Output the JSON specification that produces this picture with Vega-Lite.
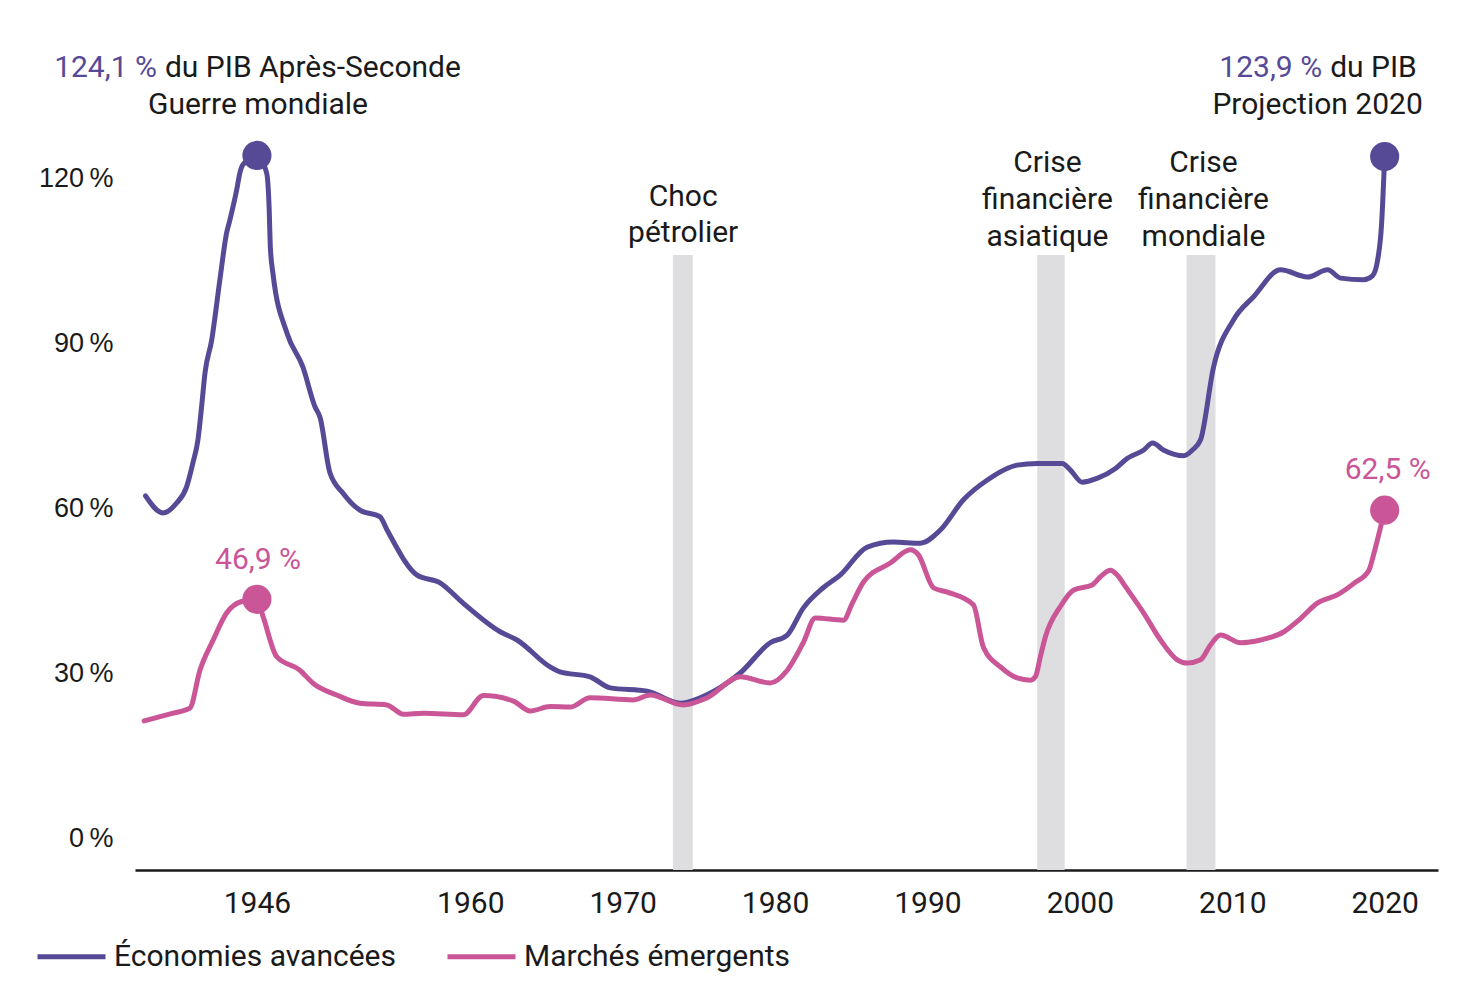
{
  "$schema": "https://vega.github.io/schema/vega-lite/v6.json",
  "width": 1303,
  "height": 857,
  "autosize": {"type": "none"},
  "padding": {"left": 135, "top": 13, "right": 34, "bottom": 116},
  "background": "white",
  "config": {"view": {"stroke": null}, "font": "Roboto"},
  "datasets": {
    "series": [
      {"series": "Économies avancées", "year": 1938.69, "value": 62.2},
      {"series": "Économies avancées", "year": 1939.83, "value": 59.1},
      {"series": "Économies avancées", "year": 1940.73, "value": 60.9},
      {"series": "Économies avancées", "year": 1941.38, "value": 63.8},
      {"series": "Économies avancées", "year": 1941.8, "value": 68.2},
      {"series": "Économies avancées", "year": 1942.13, "value": 72.4},
      {"series": "Économies avancées", "year": 1942.37, "value": 78.4},
      {"series": "Économies avancées", "year": 1942.59, "value": 84.5},
      {"series": "Économies avancées", "year": 1943.03, "value": 90.5},
      {"series": "Économies avancées", "year": 1943.57, "value": 101.5},
      {"series": "Économies avancées", "year": 1944.01, "value": 110.0},
      {"series": "Économies avancées", "year": 1944.23, "value": 112.4},
      {"series": "Économies avancées", "year": 1944.67, "value": 117.8},
      {"series": "Économies avancées", "year": 1944.88, "value": 120.9},
      {"series": "Économies avancées", "year": 1945.08, "value": 122.4},
      {"series": "Économies avancées", "year": 1946, "value": 124.1},
      {"series": "Économies avancées", "year": 1946.64, "value": 120.9},
      {"series": "Économies avancées", "year": 1946.8, "value": 114.7},
      {"series": "Économies avancées", "year": 1946.88, "value": 107.5},
      {"series": "Économies avancées", "year": 1947.05, "value": 102.7},
      {"series": "Économies avancées", "year": 1947.97, "value": 91.8},
      {"series": "Économies avancées", "year": 1949.02, "value": 85.6},
      {"series": "Économies avancées", "year": 1949.81, "value": 78.4},
      {"series": "Économies avancées", "year": 1950.14, "value": 76.5},
      {"series": "Économies avancées", "year": 1950.79, "value": 66.4},
      {"series": "Économies avancées", "year": 1951.65, "value": 62.7},
      {"series": "Économies avancées", "year": 1952.76, "value": 59.6},
      {"series": "Économies avancées", "year": 1954.08, "value": 58.4},
      {"series": "Économies avancées", "year": 1954.54, "value": 56.0},
      {"series": "Économies avancées", "year": 1956.51, "value": 47.8},
      {"series": "Économies avancées", "year": 1958.02, "value": 46.4},
      {"series": "Économies avancées", "year": 1959.53, "value": 42.7},
      {"series": "Économies avancées", "year": 1961.96, "value": 37.5},
      {"series": "Économies avancées", "year": 1963.07, "value": 36.0},
      {"series": "Économies avancées", "year": 1965.24, "value": 31.1},
      {"series": "Économies avancées", "year": 1965.89, "value": 30.2},
      {"series": "Économies avancées", "year": 1967.86, "value": 29.3},
      {"series": "Économies avancées", "year": 1969.18, "value": 27.3},
      {"series": "Économies avancées", "year": 1971.61, "value": 26.7},
      {"series": "Économies avancées", "year": 1973.78, "value": 24.5},
      {"series": "Économies avancées", "year": 1975.09, "value": 25.5},
      {"series": "Économies avancées", "year": 1977.71, "value": 30.0},
      {"series": "Économies avancées", "year": 1979.68, "value": 35.5},
      {"series": "Économies avancées", "year": 1980.8, "value": 36.9},
      {"series": "Économies avancées", "year": 1981.85, "value": 41.8},
      {"series": "Économies avancées", "year": 1983.16, "value": 45.5},
      {"series": "Économies avancées", "year": 1984.27, "value": 47.8},
      {"series": "Économies avancées", "year": 1986.05, "value": 52.9},
      {"series": "Économies avancées", "year": 1987.76, "value": 53.8},
      {"series": "Économies avancées", "year": 1989.53, "value": 53.6},
      {"series": "Économies avancées", "year": 1990.85, "value": 56.0},
      {"series": "Économies avancées", "year": 1992.36, "value": 61.5},
      {"series": "Économies avancées", "year": 1993.93, "value": 65.1},
      {"series": "Économies avancées", "year": 1995.88, "value": 67.8},
      {"series": "Économies avancées", "year": 1997.19, "value": 68.1},
      {"series": "Économies avancées", "year": 1998.84, "value": 68.1},
      {"series": "Économies avancées", "year": 1999.38, "value": 66.9},
      {"series": "Économies avancées", "year": 2000.15, "value": 64.7},
      {"series": "Économies avancées", "year": 2001.13, "value": 65.4},
      {"series": "Économies avancées", "year": 2002.34, "value": 67.2},
      {"series": "Économies avancées", "year": 2003.1, "value": 69.0},
      {"series": "Économies avancées", "year": 2004.17, "value": 70.5},
      {"series": "Économies avancées", "year": 2004.77, "value": 71.8},
      {"series": "Économies avancées", "year": 2005.51, "value": 70.5},
      {"series": "Économies avancées", "year": 2006.82, "value": 69.5},
      {"series": "Économies avancées", "year": 2007.37, "value": 70.5},
      {"series": "Économies avancées", "year": 2007.92, "value": 72.4},
      {"series": "Économies avancées", "year": 2008.77, "value": 85.6},
      {"series": "Économies avancées", "year": 2010.08, "value": 94.2},
      {"series": "Économies avancées", "year": 2011.4, "value": 98.4},
      {"series": "Économies avancées", "year": 2013.17, "value": 103.3},
      {"series": "Économies avancées", "year": 2014.94, "value": 102.0},
      {"series": "Économies avancées", "year": 2016.26, "value": 103.3},
      {"series": "Économies avancées", "year": 2017.11, "value": 101.8},
      {"series": "Économies avancées", "year": 2018.62, "value": 101.5},
      {"series": "Économies avancées", "year": 2019.2, "value": 102.2},
      {"series": "Économies avancées", "year": 2019.54, "value": 105.1},
      {"series": "Économies avancées", "year": 2019.79, "value": 111.3},
      {"series": "Économies avancées", "year": 2020, "value": 123.9},
      {"series": "Marchés émergents", "year": 1938.6, "value": 21.3},
      {"series": "Marchés émergents", "year": 1940.5, "value": 22.7},
      {"series": "Marchés émergents", "year": 1941.6, "value": 23.6},
      {"series": "Marchés émergents", "year": 1942.26, "value": 30.5},
      {"series": "Marchés émergents", "year": 1943.13, "value": 36.0},
      {"series": "Marchés émergents", "year": 1944.01, "value": 40.9},
      {"series": "Marchés émergents", "year": 1944.99, "value": 43.0},
      {"series": "Marchés émergents", "year": 1946, "value": 43.4},
      {"series": "Marchés émergents", "year": 1946.41, "value": 40.2},
      {"series": "Marchés émergents", "year": 1947.29, "value": 33.0},
      {"series": "Marchés émergents", "year": 1948.82, "value": 30.5},
      {"series": "Marchés émergents", "year": 1949.7, "value": 28.1},
      {"series": "Marchés émergents", "year": 1951.23, "value": 26.0},
      {"series": "Marchés émergents", "year": 1952.76, "value": 24.5},
      {"series": "Marchés émergents", "year": 1954.52, "value": 24.2},
      {"series": "Marchés émergents", "year": 1955.61, "value": 22.5},
      {"series": "Marchés émergents", "year": 1956.92, "value": 22.7},
      {"series": "Marchés émergents", "year": 1959.55, "value": 22.4},
      {"series": "Marchés émergents", "year": 1960.86, "value": 25.9},
      {"series": "Marchés émergents", "year": 1962.83, "value": 24.9},
      {"series": "Marchés émergents", "year": 1963.93, "value": 23.1},
      {"series": "Marchés émergents", "year": 1965.24, "value": 23.9},
      {"series": "Marchés émergents", "year": 1966.55, "value": 23.8},
      {"series": "Marchés émergents", "year": 1967.86, "value": 25.5},
      {"series": "Marchés émergents", "year": 1970.69, "value": 25.1},
      {"series": "Marchés émergents", "year": 1971.8, "value": 26.0},
      {"series": "Marchés émergents", "year": 1973.97, "value": 24.2},
      {"series": "Marchés émergents", "year": 1975.55, "value": 25.5},
      {"series": "Marchés émergents", "year": 1977.71, "value": 29.3},
      {"series": "Marchés émergents", "year": 1979.68, "value": 28.2},
      {"series": "Marchés émergents", "year": 1980.8, "value": 30.5},
      {"series": "Marchés émergents", "year": 1981.85, "value": 35.5},
      {"series": "Marchés émergents", "year": 1982.64, "value": 40.0},
      {"series": "Marchés émergents", "year": 1984.48, "value": 39.6},
      {"series": "Marchés émergents", "year": 1985.07, "value": 42.7},
      {"series": "Marchés émergents", "year": 1985.79, "value": 46.5},
      {"series": "Marchés émergents", "year": 1987.56, "value": 50.0},
      {"series": "Marchés émergents", "year": 1988.88, "value": 52.4},
      {"series": "Marchés émergents", "year": 1989.4, "value": 51.5},
      {"series": "Marchés émergents", "year": 1990.39, "value": 45.5},
      {"series": "Marchés émergents", "year": 1991.31, "value": 44.7},
      {"series": "Marchés émergents", "year": 1993.01, "value": 42.4},
      {"series": "Marchés émergents", "year": 1993.67, "value": 34.7},
      {"series": "Marchés émergents", "year": 1994.79, "value": 31.1},
      {"series": "Marchés émergents", "year": 1995.88, "value": 29.1},
      {"series": "Marchés émergents", "year": 1996.76, "value": 28.7},
      {"series": "Marchés émergents", "year": 1997.08, "value": 29.3},
      {"series": "Marchés émergents", "year": 1997.41, "value": 33.0},
      {"series": "Marchés émergents", "year": 1997.74, "value": 36.6},
      {"series": "Marchés émergents", "year": 1998.72, "value": 42.1},
      {"series": "Marchés émergents", "year": 1999.6, "value": 45.1},
      {"series": "Marchés émergents", "year": 2000.81, "value": 46.0},
      {"series": "Marchés émergents", "year": 2001.35, "value": 47.5},
      {"series": "Marchés émergents", "year": 2002.01, "value": 48.7},
      {"series": "Marchés émergents", "year": 2002.45, "value": 47.8},
      {"series": "Marchés émergents", "year": 2002.99, "value": 45.7},
      {"series": "Marchés émergents", "year": 2004.19, "value": 40.9},
      {"series": "Marchés émergents", "year": 2005.29, "value": 36.0},
      {"series": "Marchés émergents", "year": 2006.39, "value": 32.4},
      {"series": "Marchés émergents", "year": 2007.04, "value": 31.8},
      {"series": "Marchés émergents", "year": 2007.92, "value": 32.4},
      {"series": "Marchés émergents", "year": 2008.57, "value": 35.1},
      {"series": "Marchés émergents", "year": 2009.23, "value": 36.9},
      {"series": "Marchés émergents", "year": 2010.54, "value": 35.5},
      {"series": "Marchés émergents", "year": 2011.86, "value": 36.0},
      {"series": "Marchés émergents", "year": 2013.39, "value": 37.5},
      {"series": "Marchés émergents", "year": 2014.48, "value": 39.9},
      {"series": "Marchés émergents", "year": 2015.58, "value": 42.7},
      {"series": "Marchés émergents", "year": 2016.89, "value": 44.2},
      {"series": "Marchés émergents", "year": 2017.98, "value": 46.3},
      {"series": "Marchés émergents", "year": 2018.97, "value": 48.7},
      {"series": "Marchés émergents", "year": 2019.3, "value": 51.8},
      {"series": "Marchés émergents", "year": 2019.74, "value": 56.6},
      {"series": "Marchés émergents", "year": 2020, "value": 59.6}
    ],
    "bands": [
      {"event": "Choc pétrolier", "start": 1973.3, "end": 1974.6},
      {"event": "Crise financière asiatique", "start": 1997.2, "end": 1999.0},
      {"event": "Crise financière mondiale", "start": 2007.0, "end": 2008.9}
    ],
    "notes": [
      {"role": "label", "year": 1946.07, "value": 133.3, "text": "Guerre mondiale"},
      {"role": "label", "year": 2015.6, "value": 133.3, "text": "Projection 2020"},
      {"role": "label", "year": 1973.97, "value": 116.5, "text": "Choc"},
      {"role": "label", "year": 1973.97, "value": 110.0, "text": "pétrolier"},
      {"role": "label", "year": 1997.87, "value": 122.7, "text": "Crise"},
      {"role": "label", "year": 1997.87, "value": 116.0, "text": "financière"},
      {"role": "label", "year": 1997.87, "value": 109.3, "text": "asiatique"},
      {"role": "label", "year": 2008.11, "value": 122.7, "text": "Crise"},
      {"role": "label", "year": 2008.11, "value": 116.0, "text": "financière"},
      {"role": "label", "year": 2008.11, "value": 109.3, "text": "mondiale"},
      {"role": "number", "year": 1939.7, "value": 140.0, "text": "124,1 %"},
      {"role": "number", "year": 2016.16, "value": 140.0, "text": "123,9 %"},
      {"role": "after", "year": 1939.7, "value": 140.0, "text": "du PIB Après-Seconde"},
      {"role": "after", "year": 2016.16, "value": 140.0, "text": "du PIB"},
      {"role": "value", "year": 1946.07, "value": 50.5, "text": "46,9 %"},
      {"role": "value", "year": 2020.2, "value": 66.9, "text": "62,5 %"}
    ]
  },
  "layer": [
    {
      "data": {"name": "bands"},
      "mark": {"type": "rect", "color": "#dedee0"},
      "encoding": {
        "x": {"field": "start", "type": "quantitative", "scale": {"domain": [1938, 2023.5], "nice": false, "zero": false},
          "axis": {"title": null, "values": [1946, 1960, 1970, 1980, 1990, 2000, 2010, 2020], "format": "d", "ticks": false, "grid": false,
            "domainColor": "#1a1a1a", "domainWidth": 2.5, "labelFont": "Roboto", "labelFontSize": 30, "labelColor": "#1a1a1a", "labelPadding": 18, "labelFlush": false}},
        "x2": {"field": "end"},
        "y": {"datum": 106, "type": "quantitative", "scale": {"domain": [-5.818, 150], "nice": false, "zero": false},
          "axis": {"title": null, "values": [0, 30, 60, 90, 120], "labelExpr": "datum.value + '\u202f%'", "domain": false, "ticks": false, "grid": false,
            "labelFont": "Liberation Sans", "labelFontSize": 27, "labelColor": "#1a1a1a", "labelPadding": 22}},
        "y2": {"datum": -5.818}
      }
    },
    {
      "data": {"name": "series"},
      "mark": {"type": "line", "strokeWidth": 5, "interpolate": "monotone", "strokeCap": "round", "strokeJoin": "round"},
      "encoding": {
        "x": {"field": "year", "type": "quantitative", "scale": {"domain": [1938, 2023.5], "nice": false, "zero": false},
          "axis": {"title": null, "values": [1946, 1960, 1970, 1980, 1990, 2000, 2010, 2020], "format": "d", "ticks": false, "grid": false,
            "domainColor": "#1a1a1a", "domainWidth": 2.5, "labelFont": "Roboto", "labelFontSize": 30, "labelColor": "#1a1a1a", "labelPadding": 18, "labelFlush": false}},
        "y": {"field": "value", "type": "quantitative", "scale": {"domain": [-5.818, 150], "nice": false, "zero": false},
          "axis": {"title": null, "values": [0, 30, 60, 90, 120], "labelExpr": "datum.value + '\u202f%'", "domain": false, "ticks": false, "grid": false,
            "labelFont": "Liberation Sans", "labelFontSize": 27, "labelColor": "#1a1a1a", "labelPadding": 22}},
        "color": {"field": "series", "type": "nominal",
          "scale": {"domain": ["Économies avancées", "Marchés émergents"], "range": ["#564a97", "#ca5597"]},
          "legend": {"title": null, "orient": "none", "legendX": -100, "legendY": 907, "direction": "horizontal",
            "symbolType": "stroke", "symbolSize": 4624, "symbolStrokeWidth": 5, "labelFont": "Roboto", "labelFontSize": 30,
            "labelColor": "#1a1a1a", "labelOffset": 6, "columnPadding": 41, "padding": 0, "labelLimit": 400}}
      }
    },
    {
      "data": {"name": "series"},
      "transform": [{"filter": "datum.year == 1946 || datum.year == 2020"}],
      "mark": {"type": "point", "filled": true, "opacity": 1, "size": 850},
      "encoding": {
        "x": {"field": "year", "type": "quantitative", "title": null},
        "y": {"field": "value", "type": "quantitative", "title": null},
        "color": {"field": "series", "type": "nominal", "legend": null}
      }
    },
    {
      "data": {"name": "notes"},
      "transform": [{"filter": "datum.role == 'label'"}],
      "mark": {"type": "text", "align": "center", "baseline": "middle", "fontSize": 30, "color": "#1a1a1a", "font": "Roboto"},
      "encoding": {
        "x": {"field": "year", "type": "quantitative", "title": null},
        "y": {"field": "value", "type": "quantitative", "title": null},
        "text": {"field": "text", "type": "nominal"}
      }
    },
    {
      "data": {"name": "notes"},
      "transform": [{"filter": "datum.role == 'number'"}],
      "mark": {"type": "text", "align": "right", "baseline": "middle", "dx": -4, "fontSize": 30, "color": "#564a97", "font": "Roboto"},
      "encoding": {
        "x": {"field": "year", "type": "quantitative", "title": null},
        "y": {"field": "value", "type": "quantitative", "title": null},
        "text": {"field": "text", "type": "nominal"}
      }
    },
    {
      "data": {"name": "notes"},
      "transform": [{"filter": "datum.role == 'after'"}],
      "mark": {"type": "text", "align": "left", "baseline": "middle", "dx": 4, "fontSize": 30, "color": "#1a1a1a", "font": "Roboto"},
      "encoding": {
        "x": {"field": "year", "type": "quantitative", "title": null},
        "y": {"field": "value", "type": "quantitative", "title": null},
        "text": {"field": "text", "type": "nominal"}
      }
    },
    {
      "data": {"name": "notes"},
      "transform": [{"filter": "datum.role == 'value'"}],
      "mark": {"type": "text", "align": "center", "baseline": "middle", "fontSize": 30, "color": "#ca5597", "font": "Roboto"},
      "encoding": {
        "x": {"field": "year", "type": "quantitative", "title": null},
        "y": {"field": "value", "type": "quantitative", "title": null},
        "text": {"field": "text", "type": "nominal"}
      }
    }
  ]
}
